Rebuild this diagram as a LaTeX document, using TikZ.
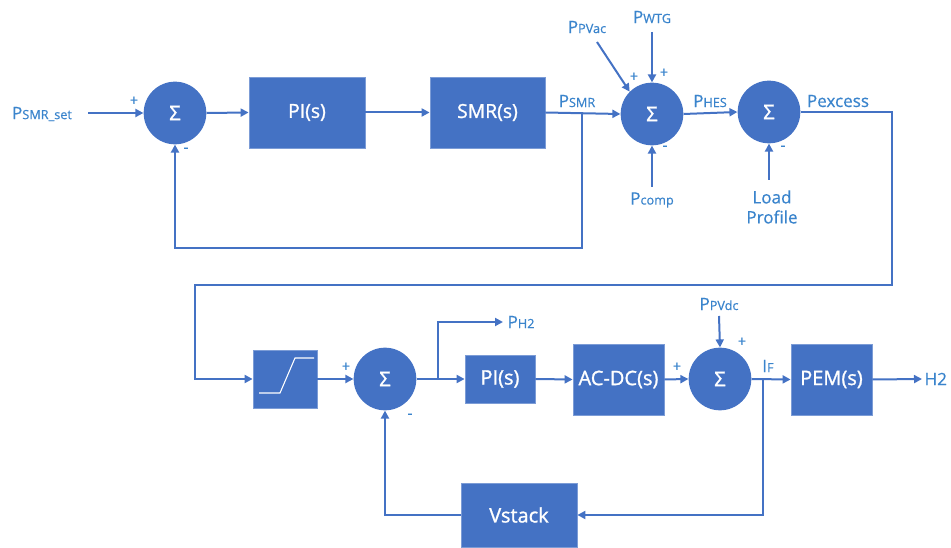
\documentclass[tikz,border=0pt]{standalone}
\usepackage{fontspec}
\setmainfont{Open Sans}
\usetikzlibrary{arrows.meta}
\definecolor{blk}{HTML}{4472C4}
\definecolor{lbl}{HTML}{3A84CC}
\begin{document}
\begin{tikzpicture}[x=0.75pt,y=-0.75pt,
  blockbox/.style={draw=blk!70!white, line width=0.6pt, fill=blk, text=white, inner sep=0pt},
  fa/.style={font=\fontsize{14.5}{16}\selectfont\addfontfeature{FakeBold=1.2}},
  fb/.style={font=\fontsize{15}{17}\selectfont\addfontfeature{FakeBold=1.2}},
  sumnode/.style={circle, fill=blk, text=white, minimum size=47pt, inner sep=0pt, font=\fontsize{15}{16}\selectfont\addfontfeature{FakeBold=1.2}},
  wire/.style={draw=blk, line width=1.5pt},
  arr/.style={wire, -{Triangle[length=6pt,width=6pt]}},
  lab/.style={text=lbl, font=\fontsize{12.8}{15}\selectfont\addfontfeature{FakeBold=0.6}, inner sep=1pt},
  sgn/.style={text=lbl, font=\fontsize{11}{11}\selectfont\addfontfeature{FakeBold=0.6}, inner sep=0pt}
]
\useasboundingbox (0,0) rectangle (951,548);
\newcommand{\sub}[1]{{\fontsize{9.5}{10}\selectfont #1}}

% ---------- row 1 ----------
\node[sumnode] (s1) at (175,113) {Σ};
\node[blockbox,fa,minimum width=87pt,minimum height=53.25pt] (pi1) at (307,112.5) {PI(s)};
\node[blockbox,fa,minimum width=86.25pt,minimum height=53.25pt] (smr) at (487.5,112.5) {SMR(s)};
\node[sumnode] (s2) at (652,114) {Σ};
\node[sumnode] (s3) at (769,112) {Σ};

\node[lab] (psmrset) at (42,114) {P\sub{SMR\_set}};
\coordinate (in1) at (88,113);
\draw[arr] (in1) -- (s1.west);
\node[sgn] (p1) at (134,101) {+};
\node[sgn] (m1) at (186,150) {-};
\draw[arr] (s1.east) -- (pi1.west);
\draw[arr] (pi1.east) -- (smr.west);
\draw[arr] (smr.east) -- (s2.west);
\node[lab] (psmr) at (577,101) {P\sub{SMR}};
\coordinate (b1) at (582,113);
\coordinate (b1d) at (582,248);
\draw[arr] (b1) -- (b1d) -| (s1.south);

\node[lab] (ppvac) at (587,27) {P\sub{PVac}};
\coordinate (ppvacs) at (597,42);
\draw[arr] (ppvacs) -- (s2.135);
\node[lab] (pwtg) at (652,17) {P\sub{WTG}};
\coordinate (pwtgs) at (652,32);
\draw[arr] (pwtgs) -- (s2.north);
\node[sgn] (p2a) at (634,77) {+};
\node[sgn] (p2b) at (664,73) {+};
\node[sgn] (m2) at (665,148) {-};
\node[lab] (pcomp) at (652,200) {P\sub{comp}};
\coordinate (pcomps) at (652,187);
\draw[arr] (pcomps) -- (s2.south);

\node[lab] (phes) at (710,101) {P\sub{HES}};
\draw[arr] (s2.east) -- (s3.west);
\node[sgn] (m3) at (783,148) {-};
\node[lab,align=center] (load) at (772,207) {Load\\Profile};
\coordinate (loads) at (769,180);
\draw[arr] (loads) -- (s3.south);
\node[lab] (pexc) at (838,101) {Pexcess};

% ---------- row 2 ----------
\node[blockbox,minimum width=48pt,minimum height=43.5pt] (sat) at (285,379) {};
\draw[white,line width=0.8pt] (259,393) -- (280,393) -- (295,358) -- (314,358);
\node[sumnode] (s4) at (385,379) {Σ};
\node[blockbox,fb,minimum width=52.5pt,minimum height=36pt] (pi2) at (500,379) {PI(s)};
\node[blockbox,fb,minimum width=68.25pt,minimum height=53.25pt] (acdc) at (618.5,379.5) {AC-DC(s)};
\node[sumnode] (s5) at (720,379) {Σ};
\node[blockbox,fb,minimum width=60.75pt,minimum height=53.25pt] (pem) at (831.5,379.5) {PEM(s)};
\node[blockbox,fb,minimum width=87pt,minimum height=48pt] (vst) at (519,515) {Vstack};

\coordinate (c1) at (892,285);
\coordinate (c2) at (195,285);
\draw[arr] (s3.east) -| (c1) -- (c2) |- (sat.west);
\draw[arr] (sat.east) -- (s4.west);
\node[sgn] (p4) at (346,367) {+};
\node[sgn] (m4) at (410,416) {-};
\draw[arr] (s4.east) -- (pi2.west);
\coordinate (b2) at (438,379);
\coordinate (ph2e) at (503,322);
\draw[arr] (b2) |- (ph2e);
\node[lab,anchor=west] (ph2) at (506,322) {P\sub{H2}};
\draw[arr] (pi2.east) -- (acdc.west);
\draw[arr] (acdc.east) -- (s5.west);
\node[sgn] (p5a) at (677,367) {+};
\node[lab] (ppvdc) at (719,304) {P\sub{PVdc}};
\coordinate (ppvdcs) at (719,316);
\draw[arr] (ppvdcs) -- (s5.north);
\node[sgn] (p5b) at (742,342) {+};
\node[lab] (if) at (768,366) {I\sub{F}};
\draw[arr] (s5.east) -- (pem.west);
\coordinate (h2e) at (922,379);
\draw[arr] (pem.east) -- (h2e);
\node[lab,anchor=west] (h2) at (923,379) {H2};
\coordinate (b3) at (763,379);
\draw[arr] (b3) |- (vst.east);
\draw[arr] (vst.west) -| (s4.south);
\end{tikzpicture}
\end{document}
